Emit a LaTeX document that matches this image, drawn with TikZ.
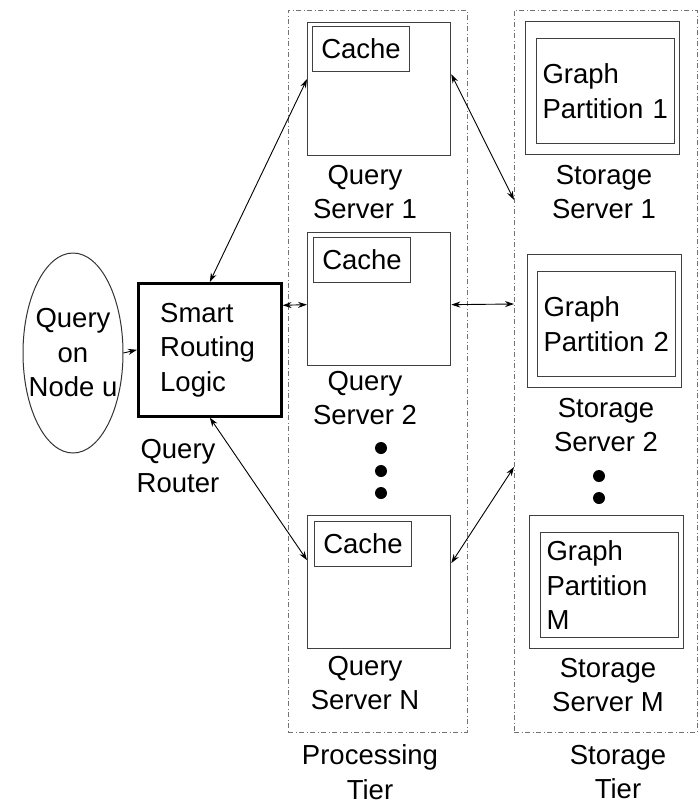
\documentclass[tikz,border=0pt]{standalone}
\usepackage{fontspec}
\setmainfont{Liberation Sans}
\usetikzlibrary{positioning,shapes.geometric,arrows.meta}

\tikzset{
	txt/.style={font=\fontsize{27.5}{34.5}\selectfont, align=center, inner sep=0pt},
	tierbox/.style={draw=black!55, line width=0.9pt, dash pattern=on 5pt off 2.5pt on 1pt off 2.5pt, inner sep=0pt},
	srvbox/.style={draw=black!75, line width=1.3pt, minimum width=143pt, minimum height=133pt, inner sep=0pt, anchor=north west},
	cachebox/.style={txt, draw=black!75, line width=1.1pt, minimum width=97pt, minimum height=45pt, anchor=north west},
	stbox/.style={draw=black!75, line width=1.3pt, minimum width=154pt, minimum height=133pt, inner sep=0pt, anchor=north west},
	partbox/.style={txt, draw=black!75, line width=1.1pt, text width=126pt, align=left, minimum height=105pt, inner xsep=6pt, anchor=north west},
	link/.style={line width=0.9pt, {Stealth[length=9pt,width=6pt]}-{Stealth[length=9pt,width=6pt]}},
}

\begin{document}
\begin{tikzpicture}[x=1pt, y=-1pt]
	\useasboundingbox (0,0) rectangle (697,804);

	% query and router
	\node[ellipse, draw=black!80, line width=1pt, minimum width=100pt, minimum height=200pt, inner sep=0pt] (qry) at (73,353) {};
	\node[txt] (qrytxt) at (qry) {Query\\on\\Node u};
	\node[draw, line width=2.6pt, minimum width=143pt, minimum height=133pt, inner sep=0pt, anchor=north west] (rt) at (137,282) {};
	\node[txt, align=left, anchor=west, right=23pt of rt.west] (rttxt) {Smart\\Routing\\Logic};
	\node[txt] (rtlbl) at (178,466) {Query\\Router};

	% processing tier
	\node[tierbox, minimum width=179pt, minimum height=722pt, anchor=north west] (ptier) at (288,10) {};
	\node[srvbox] (qs1) at (307,22) {};
	\node[cachebox] (c1) at (312,26) {Cache};
	\node[txt] (qs1lbl) at (365,192) {Query\\Server 1};
	\node[srvbox] (qs2) at (307,232) {};
	\node[cachebox] (c2) at (313,237) {Cache};
	\node[txt] (qs2lbl) at (365,398) {Query\\Server 2};
	\foreach \y in {448,471,493}
		\fill (381,\y) circle (6pt);
	\node[srvbox] (qsn) at (307,515) {};
	\node[cachebox] (cn) at (314,521) {Cache};
	\node[txt] (qsnlbl) at (365,683) {Query\\Server N};
	\node[txt] (ptierlbl) at (370,772) {Processing\\Tier};

	% storage tier
	\node[tierbox, minimum width=183pt, minimum height=722pt, anchor=north west] (stier) at (514,10) {};
	\node[stbox] (ss1) at (525,21) {};
	\node[partbox] (gp1) at (536,38) {Graph\\Partition~1};
	\node[txt] (ss1lbl) at (604,192) {Storage\\Server 1};
	\node[stbox] (ss2) at (527,254) {};
	\node[partbox] (gp2) at (537,271) {Graph\\Partition~2};
	\node[txt] (ss2lbl) at (606,425) {Storage\\Server 2};
	\foreach \y in {476,498}
		\fill (599,\y) circle (6pt);
	\node[stbox] (ssm) at (529,515) {};
	\node[partbox] (gpm) at (540,532) {Graph\\Partition\\M};
	\node[txt] (ssmlbl) at (608,685) {Storage\\Server M};
	\node[txt] (stierlbl) at (618,772) {Storage\\Tier};

	\coordinate (in1) at (514,200);
	\coordinate (in2) at (514,304);
	\coordinate (inm) at (514,467);

	% links
	\draw[line width=0.9pt, -{Stealth[length=9pt,width=6pt]}] (qry.east) -- (rt.west);
	\draw[link] (rt.north) -- ([yshift=10pt]qs1.west);
	\draw[link] ([yshift=44.5pt]rt.east) -- ([yshift=-5.5pt]qs2.west);
	\draw[link] (rt.south) -- ([yshift=22pt]qsn.west);
	\draw[link] ([yshift=15pt]qs1.east) -- (in1);
	\draw[link] ([yshift=-5.5pt]qs2.east) -- (in2);
	\draw[link] ([yshift=19pt]qsn.east) -- (inm);
\end{tikzpicture}
\end{document}
